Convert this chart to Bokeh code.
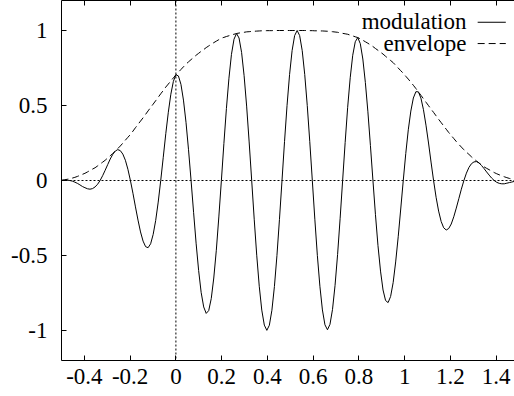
from bokeh.plotting import figure
from bokeh.models import Range1d, FixedTicker, LinearAxis, Span, Label, Arrow
from bokeh.embed import file_html
from bokeh.resources import INLINE

# ---- data ----
x = [-0.5,
     -0.4969, -0.4858, -0.4748, -0.4638, -0.4527, -0.4417, -0.4306, -0.4196, -0.4085, -0.3975,
     -0.3865, -0.3754, -0.3644, -0.3533, -0.3423, -0.3313, -0.3202, -0.3092, -0.2981, -0.2871,
     -0.2760, -0.265, -0.2540, -0.2429, -0.2319, -0.2208, -0.2098, -0.1988, -0.1877, -0.1767,
     -0.1656, -0.1546, -0.1435, -0.1325, -0.1215, -0.1104, -0.0994, -0.0883, -0.0773, -0.0663,
     -0.0552, -0.0442, -0.0331, -0.0221, -0.0110, 0.0, 0.0110, 0.0221, 0.0331, 0.0442,
     0.0552, 0.0663, 0.0773, 0.0883, 0.0994, 0.1104, 0.1215, 0.1325, 0.1435, 0.1546,
     0.1656, 0.1767, 0.1877, 0.1988, 0.2098, 0.2208, 0.2319, 0.2429, 0.2540, 0.265,
     0.2760, 0.2871, 0.2981, 0.3092, 0.3202, 0.3313, 0.3423, 0.3533, 0.3644, 0.3754,
     0.3865, 0.3975, 0.4085, 0.4196, 0.4306, 0.4417, 0.4527, 0.4638, 0.4748, 0.4858,
     0.4969, 0.5079, 0.5190, 0.53, 0.5410, 0.5521, 0.5631, 0.5742, 0.5852, 0.5963,
     0.6073, 0.6183, 0.6294, 0.6404, 0.6515, 0.6625, 0.6735, 0.6846, 0.6956, 0.7067,
     0.7177, 0.7288, 0.7398, 0.7508, 0.7619, 0.7729, 0.7840, 0.795, 0.8060, 0.8171,
     0.8281, 0.8392, 0.8502, 0.8613, 0.8723, 0.8833, 0.8944, 0.9054, 0.9165, 0.9275,
     0.9385, 0.9496, 0.9606, 0.9717, 0.9827, 0.9938, 1.0048, 1.0158, 1.0269, 1.0379,
     1.0490, 1.06, 1.0710, 1.0821, 1.0931, 1.1042, 1.1152, 1.1263, 1.1373, 1.1483,
     1.1594, 1.1704, 1.1815, 1.1925, 1.2035, 1.2146, 1.2256, 1.2367, 1.2477, 1.2588,
     1.2698, 1.2808, 1.2919, 1.3029, 1.3140, 1.325, 1.3360, 1.3471, 1.3581, 1.3692,
     1.3802, 1.3913, 1.4023, 1.4133, 1.4244, 1.4354, 1.4465, 1.4575, 1.4685, 1.4796,
     1.4906, 1.5]

modulation = [0.0,
    0.001, 0.002, 0.002, 0.000, -0.004, -0.011, -0.019, -0.029, -0.040, -0.048,
    -0.055, -0.058, -0.054, -0.043, -0.025, 0.000, 0.032, 0.068, 0.106, 0.143,
    0.174, 0.196, 0.206, 0.199, 0.176, 0.135, 0.075, 0.000, -0.085, -0.176,
    -0.264, -0.343, -0.404, -0.441, -0.448, -0.422, -0.360, -0.266, -0.144, 0.000,
    0.155, 0.312, 0.455, 0.575, 0.661, 0.705, 0.697, 0.641, 0.536, 0.388,
    0.205, 0.000, -0.212, -0.418, -0.600, -0.746, -0.843, -0.886, -0.867, -0.787,
    -0.650, -0.465, -0.243, 0.000, 0.247, 0.480, 0.682, 0.841, 0.942, 0.980,
    0.950, 0.854, 0.699, 0.496, 0.257, 0.000, -0.258, -0.498, -0.705, -0.864,
    -0.964, -0.999, -0.965, -0.865, -0.707, -0.500, -0.259, 0.000, 0.259, 0.500,
    0.707, 0.866, 0.966, 1.000, 0.966, 0.866, 0.707, 0.500, 0.259, 0.000,
    -0.258, -0.499, -0.705, -0.863, -0.962, -0.995, -0.959, -0.859, -0.700, -0.494,
    -0.255, 0.000, 0.253, 0.488, 0.685, 0.835, 0.925, 0.953, 0.912, 0.810,
    0.654, 0.458, 0.234, 0.000, -0.228, -0.434, -0.604, -0.730, -0.800, -0.814,
    -0.773, -0.681, -0.543, -0.375, -0.190, 0.000, 0.180, 0.338, 0.463, 0.550,
    0.592, 0.591, 0.549, 0.472, 0.369, 0.250, 0.123, 0.000, -0.112, -0.204,
    -0.273, -0.315, -0.330, -0.320, -0.290, -0.242, -0.184, -0.121, -0.058, 0.000,
    0.049, 0.087, 0.112, 0.124, 0.126, 0.117, 0.100, 0.079, 0.057, 0.036,
    0.016, 0.000, -0.012, -0.019, -0.022, -0.022, -0.018, -0.014, -0.010, -0.006,
    -0.002, 0.0]

envelope = [0.0,
    0.002, 0.005, 0.008, 0.012, 0.016, 0.021, 0.027, 0.034, 0.041, 0.048,
    0.057, 0.067, 0.076, 0.085, 0.097, 0.110, 0.122, 0.135, 0.150, 0.165,
    0.180, 0.196, 0.213, 0.230, 0.249, 0.269, 0.288, 0.307, 0.329, 0.352,
    0.374, 0.396, 0.418, 0.441, 0.464, 0.487, 0.509, 0.532, 0.555, 0.578,
    0.600, 0.623, 0.643, 0.664, 0.684, 0.705, 0.722, 0.740, 0.758, 0.776,
    0.791, 0.806, 0.820, 0.835, 0.848, 0.861, 0.873, 0.886, 0.897, 0.909,
    0.919, 0.929, 0.939, 0.949, 0.954, 0.960, 0.965, 0.971, 0.975, 0.980,
    0.983, 0.986, 0.988, 0.991, 0.992, 0.994, 0.995, 0.996, 0.997, 0.998,
    0.998, 0.999, 0.999, 0.999, 1.000, 1.000, 1.000, 1.000, 1.000, 1.000,
    1.000, 1.000, 1.000, 1.000, 1.000, 1.000, 1.000, 1.000, 0.999, 0.999,
    0.998, 0.998, 0.997, 0.997, 0.996, 0.995, 0.993, 0.992, 0.990, 0.988,
    0.984, 0.981, 0.978, 0.975, 0.969, 0.964, 0.958, 0.953, 0.944, 0.935,
    0.925, 0.915, 0.904, 0.893, 0.880, 0.868, 0.855, 0.843, 0.828, 0.814,
    0.800, 0.786, 0.768, 0.750, 0.732, 0.715, 0.695, 0.676, 0.655, 0.635,
    0.613, 0.591, 0.568, 0.545, 0.522, 0.499, 0.476, 0.454, 0.431, 0.408,
    0.386, 0.364, 0.342, 0.320, 0.300, 0.280, 0.260, 0.241, 0.223, 0.205,
    0.189, 0.174, 0.158, 0.143, 0.130, 0.117, 0.104, 0.091, 0.081, 0.072,
    0.062, 0.053, 0.045, 0.038, 0.031, 0.025, 0.019, 0.014, 0.010, 0.007,
    0.003, 0.0]

x_ticks = [-0.4, -0.2, 0, 0.2, 0.4, 0.6, 0.8, 1, 1.2, 1.4]
x_tick_labels = ["-0.4", "-0.2", "0", "0.2", "0.4", "0.6", "0.8", "1", "1.2", "1.4"]
y_ticks = [-1, -0.5, 0, 0.5, 1]
y_tick_labels = ["-1", "-0.5", "0", "0.5", "1"]

series_names = ["modulation", "envelope"]

FONT = "'Liberation Serif', 'Times New Roman', serif"
FS = "23px"

p = figure(width=514, height=396,
           x_range=Range1d(-0.5, 1.48), y_range=Range1d(-1.2, 1.2),
           output_backend="svg", toolbar_location=None,
           min_border_left=61, min_border_right=0, min_border_top=0, min_border_bottom=36)
p.outline_line_color = None
p.xgrid.grid_line_color = None
p.ygrid.grid_line_color = None
p.background_fill_color = "white"
p.border_fill_color = "white"


def style_axis(ax, ticks, labels, standoff):
    ax.ticker = FixedTicker(ticks=ticks)
    ax.major_label_overrides = {t: l for t, l in zip(ticks, labels)}
    ax.major_tick_in = 5
    ax.major_tick_out = 0
    ax.minor_tick_line_color = None
    ax.axis_line_color = "black"
    ax.major_tick_line_color = "black"
    ax.major_label_text_font = FONT
    ax.major_label_text_font_size = FS
    ax.major_label_text_color = "black"
    ax.major_label_standoff = standoff


style_axis(p.xaxis[0], x_ticks, x_tick_labels, 8)
style_axis(p.yaxis[0], y_ticks, y_tick_labels, 14)

top = LinearAxis()
style_axis(top, x_ticks, [""] * len(x_ticks), 0)
top.major_label_text_font_size = "0px"
p.add_layout(top, "above")

# zero axes (dotted)
p.add_layout(Span(location=0, dimension="width", line_color="black", line_width=1, line_dash="2 2"))
p.add_layout(Span(location=0, dimension="height", line_color="black", line_width=1, line_dash="2 2"))

p.line(x, modulation, line_color="black", line_width=1)
p.line(x, envelope, line_color="black", line_width=1, line_dash="7 4")

# gnuplot-style key: text right-aligned, sample on the right
p.add_layout(Label(x=1.27, y=1.063, text=series_names[0], text_align="right", text_baseline="middle",
                   text_font=FONT, text_font_size=FS, text_color="black"))
p.add_layout(Label(x=1.27, y=0.913, text=series_names[1], text_align="right", text_baseline="middle",
                   text_font=FONT, text_font_size=FS, text_color="black"))
p.add_layout(Arrow(end=None, x_start=1.319, y_start=1.055, x_end=1.442, y_end=1.055,
                   line_color="black", line_width=1))
p.add_layout(Arrow(end=None, x_start=1.319, y_start=0.913, x_end=1.442, y_end=0.913,
                   line_color="black", line_width=1, line_dash="7 4"))

open("out.html", "w").write(file_html(p, INLINE))
